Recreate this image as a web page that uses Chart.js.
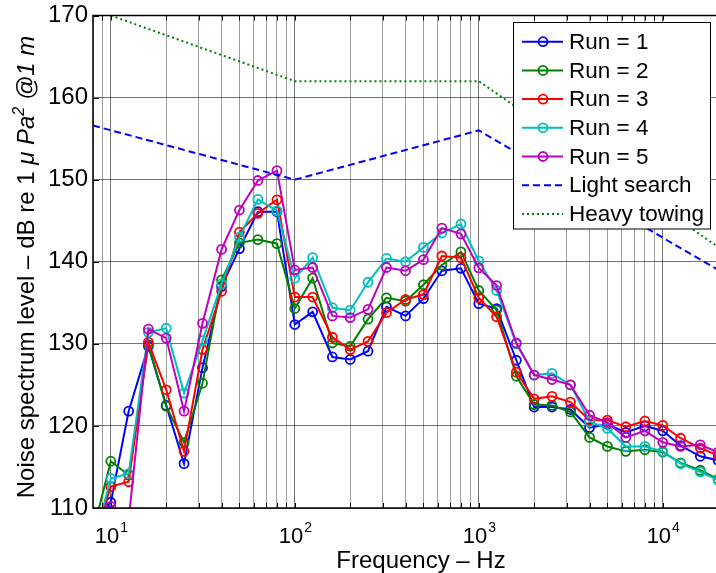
<!DOCTYPE html>
<html><head><meta charset="utf-8">
<script src="https://cdn.jsdelivr.net/npm/chart.js@4"></script>
<style>html,body{margin:0;padding:0;background:#fff;overflow:hidden}#wrap{width:716px;height:573px;position:relative}</style>
</head><body><div id="wrap"><canvas id="c" width="716" height="573"></canvas></div>
<script>
const freqs = [8,10,12.5,16,20,25,31.5,40,50,63,80,100,125,160,200,250,315,400,500,630,800,1000,1250,1600,2000,2500,3150,4000,5000,6300,8000,10000,12500,16000,20000];
const run1 = [108.5,110.7,121.8,129.7,122.5,115.4,127.1,137.0,141.6,146.1,146.1,132.35,133.9,128.4,128.1,129.1,134.5,133.4,135.5,138.9,139.2,134.9,134.3,128.0,122.3,122.3,122.0,119.8,120.2,119.2,120.0,119.4,117.6,116.3,115.8];
const run2 = [107.1,115.7,114.0,129.9,122.4,118.0,125.2,137.8,142.3,142.7,142.2,134.3,138.0,130.1,129.7,133.0,135.6,135.2,137.2,139.6,141.2,136.5,134.1,126.05,122.6,122.5,121.7,118.6,117.5,116.9,117.1,116.8,115.5,114.6,113.5];
const run3 = [106.0,112.6,113.2,130.2,124.4,116.9,129.3,136.4,143.6,145.9,147.55,135.7,135.7,130.8,129.3,130.3,133.8,135.4,136.0,140.7,140.5,135.6,133.3,126.55,123.3,123.6,122.9,120.7,120.7,119.9,120.6,120.06,118.5,117.3,116.4];
const run4 = [105.5,113.6,114.2,131.4,131.9,124.0,130.4,137.3,143.0,147.6,146.2,138.0,140.5,134.4,134.1,137.5,140.4,140.0,141.75,143.5,144.6,140.1,136.5,130.0,126.2,126.4,125.0,120.5,119.7,117.5,117.5,116.9,115.4,114.4,113.4];
const run5 = [107.0,110.2,108.5,131.8,130.7,121.8,132.5,141.5,146.3,149.9,151.1,139.0,139.3,133.4,133.2,134.2,139.3,138.9,140.25,144.1,143.4,139.25,137.1,130.1,126.2,125.65,125.0,121.3,120.4,118.6,119.4,118.0,117.5,117.7,116.8];
const lightSearchFreqs = [8,100,1000,20000];
const lightSearch = [156.6,150,156,139];
const heavyTowingFreqs = [10,100,1000,20000];
const heavyTowing = [170,162,162,141.8];
const yTicks = [110,120,130,140,150,160,170];
const xTickValues = [10,100,1000,10000];
const xTickBase = '10';
const xTickExps = ['1','2','3','4'];
const runLabels = ['Run = 1','Run = 2','Run = 3','Run = 4','Run = 5'];
const runColors = ['#0000ff','#008000','#ff0000','#00bfbf','#bf00bf'];
const xTitle = 'Frequency \u2013 Hz';
const yTitleParts = ['Noise spectrum level \u2013 dB re 1 ', '\u03BC Pa', '2', ' @1 m'];

const FONT = '"Liberation Sans", Arial, Helvetica, sans-serif';
const xMin = 8, xMax = 19470;
const isPow10 = v => Math.abs(Math.log10(v) - Math.round(Math.log10(v))) < 1e-9;
const pts = (xs, ys) => xs.map((x,i)=>({x, y: ys[i]}));

const runs = [run1,run2,run3,run4,run5];
const datasets = runs.map((r,i)=>({
  label: runLabels[i], data: pts(freqs, r),
  borderColor: runColors[i], backgroundColor: 'transparent',
  borderWidth: 2, pointRadius: 4.5, pointBorderWidth: 1.8,
  pointBackgroundColor: 'transparent', pointBorderColor: runColors[i],
  pointStyle: 'circle', tension: 0, clip: 0, order: 20 - i
}));
datasets.push({label:'Light search', data: pts(lightSearchFreqs, lightSearch), borderColor:'#0000ff', borderWidth:2, borderDash:[7,4], pointRadius:0, clip:0, order: 5, fill:false});
datasets.push({label:'Heavy towing', data: pts(heavyTowingFreqs, heavyTowing), borderColor:'#008000', borderWidth:2, borderDash:[2,3], pointRadius:0, clip:0, order: 4, fill:false});

const decor = {
  id: 'decor',
  afterDraw(chart) {
    const {ctx, chartArea: a, scales: {x, y}} = chart;
    ctx.save();
    // inner ticks
    ctx.strokeStyle = '#000'; ctx.lineWidth = 1;
    ctx.beginPath();
    x.ticks.forEach(t => {
      if (t.value <= xMin) return;
      const px = Math.round(x.getPixelForValue(t.value)) + 0.5;
      ctx.moveTo(px, a.bottom); ctx.lineTo(px, a.bottom - 5);
      ctx.moveTo(px, a.top); ctx.lineTo(px, a.top + 5);
    });
    yTicks.forEach(v => {
      const py = Math.round(y.getPixelForValue(v)) + 0.5;
      ctx.moveTo(a.left, py); ctx.lineTo(a.left + 6, py);
    });
    ctx.stroke();
    // box
    ctx.lineWidth = 1.5;
    ctx.beginPath();
    ctx.moveTo(a.right + 5, a.top); ctx.lineTo(a.left, a.top); ctx.lineTo(a.left, a.bottom); ctx.lineTo(a.right + 5, a.bottom);
    ctx.stroke();

    // x tick labels: 10 with superscript exponent
    ctx.fillStyle = '#000'; ctx.textBaseline = 'alphabetic'; ctx.textAlign = 'left';
    xTickValues.forEach((v, i) => {
      const px = x.getPixelForValue(v);
      ctx.font = '22px ' + FONT; const w1 = ctx.measureText(xTickBase).width;
      ctx.font = '14px ' + FONT; const w2 = ctx.measureText(xTickExps[i]).width;
      const sx = px - (w1 + w2) / 2;
      ctx.font = '22px ' + FONT; ctx.fillText(xTickBase, sx, 543);
      ctx.font = '14px ' + FONT; ctx.fillText(xTickExps[i], sx + w1 + 1, 532);
    });

    // x title
    ctx.font = '24px ' + FONT; ctx.textAlign = 'center';
    ctx.fillText(xTitle, 421, 568);

    // y title (rich text)
    const segs = [
      {t:yTitleParts[0], f:'24px ' + FONT, dy:0},
      {t:yTitleParts[1], f:'italic 24px ' + FONT, dy:0},
      {t:yTitleParts[2], f:'italic 16px ' + FONT, dy:-10},
      {t:yTitleParts[3], f:'italic 24px ' + FONT, dy:0}
    ];
    let total = 0;
    segs.forEach(s => { ctx.font = s.f; s.w = ctx.measureText(s.t).width; total += s.w; });
    ctx.translate(34, 267);
    ctx.rotate(-Math.PI/2);
    ctx.textAlign = 'left';
    let cx = -total/2;
    segs.forEach(s => { ctx.font = s.f; ctx.fillText(s.t, cx, s.dy); cx += s.w; });
    ctx.restore();

    // legend
    ctx.save();
    const L = 513.5, T = 22.5, W = 197, H = 206.5, rowH = 28.7, r0 = 41.7;
    ctx.fillStyle = '#fff'; ctx.fillRect(L, T, W, H);
    ctx.strokeStyle = '#000'; ctx.lineWidth = 1; ctx.strokeRect(L, T, W, H);
    chart.data.datasets.forEach((d, i) => {
      const cy = r0 + i * rowH;
      ctx.strokeStyle = d.borderColor; ctx.lineWidth = 2;
      ctx.setLineDash(d.borderDash || []);
      ctx.beginPath(); ctx.moveTo(522, cy); ctx.lineTo(563, cy); ctx.stroke();
      ctx.setLineDash([]);
      if (d.pointRadius) {
        ctx.lineWidth = 1.8;
        ctx.beginPath(); ctx.arc(543, cy, 4.5, 0, Math.PI*2); ctx.stroke();
      }
      ctx.fillStyle = '#000'; ctx.font = '22.5px ' + FONT; ctx.textBaseline = 'middle'; ctx.textAlign = 'left';
      ctx.fillText(d.label, 569, cy + 1);
    });
    ctx.restore();
  }
};

new Chart(document.getElementById('c'), {
  type: 'line',
  data: { datasets },
  options: {
    responsive: false, animation: false, devicePixelRatio: 1,
    layout: { autoPadding: false, padding: { left: 0, top: 15.5, right: 0, bottom: 0 } },
    plugins: { legend: { display: false }, tooltip: { enabled: false } },
    scales: {
      x: {
        type: 'logarithmic', min: xMin, max: xMax,
        afterBuildTicks: s => {
          const t = [];
          for (let e = 0; e <= 4; e++) for (let m = 1; m < 10; m++) {
            const v = m * Math.pow(10, e);
            if (v >= xMin && v <= xMax) t.push({ value: v });
          }
          s.ticks = t;
        },
        afterFit: s => { s.height = 65; s.paddingLeft = 0; s.paddingRight = 0; s.paddingTop = 0; s.paddingBottom = 0; },
        grid: {
          drawTicks: false,
          color: c => (c.tick && isPow10(c.tick.value)) ? 'rgba(0,0,0,0.55)' : 'rgba(0,0,0,0.38)',
          lineWidth: 1
        },
        border: { display: false },
        ticks: {
          autoSkip: false, maxRotation: 0, minRotation: 0, padding: 8, color: '#000',
          font: { family: FONT, size: 22 },
          callback: () => ''
        }
      },
      y: {
        type: 'linear', min: 110, max: 170,
        afterBuildTicks: s => { s.ticks = yTicks.map(v => ({ value: v })); },
        afterFit: s => { s.width = 93; s.paddingTop = 0; s.paddingBottom = 0; s.paddingLeft = 0; s.paddingRight = 0; },
        grid: { drawTicks: false, color: 'rgba(0,0,0,0.55)', lineWidth: 1 },
        border: { display: false },
        ticks: { padding: 5, color: '#000', font: { family: FONT, size: 24 } }
      }
    }
  },
  plugins: [decor]
});
</script>
</body></html>
